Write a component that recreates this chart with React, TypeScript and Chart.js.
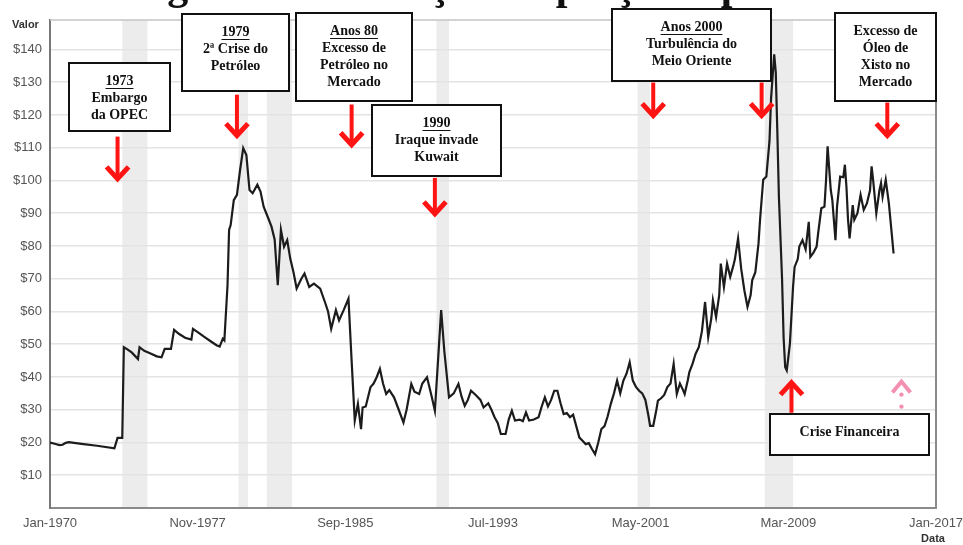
import { useEffect, useRef } from 'react';
import { Chart, registerables } from 'chart.js';

Chart.register(...registerables);

// ---- Data ----
const dates = [
  '1970-01','1970-04','1970-07','1970-09','1970-11','1971-01','1971-09','1972-07','1973-06','1973-08',
  '1973-11','1973-12','1974-02','1974-05','1974-09','1974-10','1975-01','1975-05','1975-09','1975-12',
  '1976-02','1976-06','1976-08','1976-11','1977-03','1977-07','1977-08','1977-11','1978-03','1978-07',
  '1978-11','1979-01','1979-03','1979-04','1979-06','1979-07','1979-08','1979-10','1979-12','1980-02',
  '1980-04','1980-06','1980-08','1980-10','1981-01','1981-03','1981-05','1981-08','1981-10','1981-12',
  '1982-02','1982-04','1982-06','1982-08','1982-10','1982-12','1983-02','1983-05','1983-07','1983-10',
  '1984-01','1984-05','1984-08','1984-10','1984-12','1985-03','1985-05','1985-08','1985-11','1986-01',
  '1986-03','1986-05','1986-07','1986-08','1986-10','1987-01','1987-03','1987-05','1987-07','1987-09',
  '1987-11','1988-01','1988-04','1988-07','1988-10','1988-12','1989-03','1989-05','1989-08','1989-10',
  '1990-01','1990-04','1990-06','1990-08','1990-10','1990-12','1991-03','1991-06','1991-09','1991-11',
  '1992-01','1992-03','1992-05','1992-08','1992-11','1993-01','1993-04','1993-06','1993-08','1993-10',
  '1993-12','1994-03','1994-05','1994-07','1994-09','1994-12','1995-02','1995-04','1995-06','1995-09',
  '1995-12','1996-02','1996-04','1996-06','1996-08','1996-10','1996-12','1997-02','1997-04','1997-06',
  '1997-08','1997-10','1997-12','1998-02','1998-04','1998-06','1998-08','1998-10','1998-12','1999-02',
  '1999-04','1999-06','1999-08','1999-10','1999-12','2000-02','2000-04','2000-06','2000-08','2000-10',
  '2000-12','2001-02','2001-04','2001-06','2001-08','2001-10','2001-11','2002-01','2002-03','2002-04',
  '2002-06','2002-08','2002-10','2002-12','2003-02','2003-04','2003-06','2003-08','2003-09','2003-11',
  '2003-12','2004-02','2004-04','2004-06','2004-08','2004-10','2004-12','2005-02','2005-03','2005-05',
  '2005-07','2005-08','2005-10','2005-12','2006-02','2006-04','2006-05','2006-07','2006-09','2006-11',
  '2007-01','2007-03','2007-04','2007-06','2007-08','2007-09','2007-11','2008-01','2008-03','2008-04',
  '2008-06','2008-07','2008-08','2008-09','2008-11','2008-12','2009-01','2009-02','2009-03','2009-04',
  '2009-06','2009-07','2009-09','2009-10','2009-12','2010-02','2010-04','2010-05','2010-07','2010-09',
  '2010-10','2010-12','2011-02','2011-03','2011-04','2011-06','2011-07','2011-09','2011-10','2011-12',
  '2012-02','2012-03','2012-04','2012-05','2012-06','2012-08','2012-09','2012-11','2013-01','2013-03',
  '2013-05','2013-07','2013-08','2013-09','2013-11','2014-01','2014-02','2014-03','2014-05','2014-07',
  '2014-08','2014-10',
];

const prices = [
  20.0, 19.6, 19.2, 19.3, 19.9, 20.1, 19.6, 19.0, 18.2, 21.4,
  21.4, 49.1, 48.5, 47.5, 45.5, 49.1, 48.0, 47.2, 46.3, 46.0,
  48.6, 48.6, 54.4, 53.2, 52.0, 51.4, 54.7, 53.7, 52.3, 51.0,
  49.7, 49.3, 51.7, 51.2, 68.0, 84.9, 86.4, 94.0, 95.6, 103.2,
  109.9, 107.8, 97.1, 96.1, 98.7, 96.6, 92.0, 88.4, 85.9, 82.0,
  68.0, 84.9, 79.8, 81.8, 76.0, 72.0, 67.0, 70.0, 71.6, 67.5,
  68.5, 67.0, 62.9, 60.0, 54.7, 60.4, 57.3, 60.5, 63.9, 45.0,
  26.7, 31.8, 24.1, 30.7, 31.0, 36.9, 38.0, 40.0, 42.5, 38.0,
  34.8, 36.0, 33.8, 30.0, 26.1, 30.0, 37.9, 35.5, 34.8, 38.0,
  39.9, 34.0, 29.7, 45.0, 60.4, 48.0, 33.8, 35.0, 37.9, 34.0,
  31.2, 33.0, 35.8, 34.5, 33.0, 30.7, 32.0, 30.0, 27.7, 26.0,
  22.6, 22.6, 27.0, 29.7, 26.7, 27.0, 26.5, 29.2, 26.7, 27.0,
  27.7, 31.0, 33.8, 31.0, 33.0, 35.8, 35.8, 32.0, 28.7, 29.0,
  27.7, 28.5, 25.0, 21.5, 20.5, 19.5, 19.8, 18.0, 16.4, 20.0,
  24.1, 25.0, 28.0, 31.8, 35.0, 38.9, 35.0, 38.9, 41.0, 44.5,
  38.9, 37.0, 35.8, 35.0, 33.0, 28.0, 25.1, 25.1, 30.0, 32.8,
  33.5, 34.5, 36.9, 38.0, 44.0, 34.8, 38.0, 36.0, 34.8, 39.0,
  41.5, 44.0, 47.1, 49.1, 54.0, 62.9, 52.2, 58.0, 63.4, 58.3,
  65.0, 74.6, 67.5, 74.6, 70.6, 74.0, 76.0, 82.3, 73.0, 66.5,
  61.4, 65.0, 69.5, 72.0, 80.7, 88.0, 100.2, 101.2, 112.0, 125.0,
  138.5, 133.0, 115.0, 95.0, 70.0, 52.0, 43.0, 42.0, 46.0, 50.2,
  67.5, 73.6, 76.0, 79.8, 81.8, 79.0, 87.4, 76.7, 78.0, 79.8,
  84.0, 91.5, 92.0, 100.0, 110.4, 97.1, 94.0, 81.8, 92.0, 101.2,
  101.0, 104.8, 98.0, 88.0, 82.3, 92.5, 88.0, 90.0, 95.6, 91.0,
  93.0, 97.0, 104.3, 100.0, 90.0, 97.0, 99.2, 95.0, 100.2, 93.0,
  88.0, 77.7,
];

// Shaded recession periods
const recessionStarts = ['1973-11', '1980-01', '1981-07', '1990-07', '2001-03', '2007-12'];
const recessionEnds = ['1975-03', '1980-07', '1982-11', '1991-03', '2001-11', '2009-06'];

// Axis ticks
const xTickDates = ['1970-01', '1977-11', '1985-09', '1993-07', '2001-05', '2009-03', '2017-01'];
const monthNames = ['Jan', 'Feb', 'Mar', 'Apr', 'May', 'Jun', 'Jul', 'Aug', 'Sep', 'Oct', 'Nov', 'Dec'];
const yTickValues = [0, 10, 20, 30, 40, 50, 60, 70, 80, 90, 100, 110, 120, 130, 140];

const titleText = 'Figura 1 – Evolução do preço do petróleo';
const yAxisTitle = 'Valor';
const xAxisTitle = 'Data';

// Annotation boxes: left (month index), top ($), size in px, text lines, underline first line
const boxes = [
  { x: 12.1, y: 136.0, w: 101, h: 68, lines: ['1973', 'Embargo', 'da OPEC'], underline: true },
  { x: 84.0, y: 150.7, w: 107, h: 77, lines: ['1979', '2ª Crise do', 'Petróleo'], underline: true },
  { x: 156.6, y: 151.0, w: 116, h: 88, lines: ['Anos 80', 'Excesso de', 'Petróleo no', 'Mercado'], underline: true },
  { x: 205.0, y: 122.9, w: 129, h: 71, lines: ['1990', 'Iraque invade', 'Kuwait'], underline: true },
  { x: 357.8, y: 152.3, w: 159, h: 72, lines: ['Anos 2000', 'Turbulência do', 'Meio Oriente'], underline: true },
  { x: 499.7, y: 151.0, w: 101, h: 88, lines: ['Excesso de', 'Óleo de', 'Xisto no', 'Mercado'], underline: false },
  { x: 458.3, y: 28.8, w: 159, h: 41, lines: ['Crise Financeira'], underline: false },
];

// Arrows: date, start value, tip value
const arrows = [
  { date: '1973-08', from: 113.4, to: 100.2, color: '#ff1414', dashed: false },
  { date: '1979-12', from: 126.2, to: 113.4, color: '#ff1414', dashed: false },
  { date: '1986-01', from: 123.2, to: 110.6, color: '#ff1414', dashed: false },
  { date: '1990-06', from: 100.8, to: 89.5, color: '#ff1414', dashed: false },
  { date: '2002-01', from: 129.9, to: 119.5, color: '#ff1414', dashed: false },
  { date: '2007-10', from: 129.9, to: 119.5, color: '#ff1414', dashed: false },
  { date: '2014-06', from: 123.8, to: 113.4, color: '#ff1414', dashed: false },
  { date: '2009-05', from: 29.1, to: 38.6, color: '#ff1414', dashed: false },
  { date: '2015-03', from: 29.7, to: 38.6, color: '#f48fb1', dashed: true },
];

const toMonth = (s: string) => {
  const [y, m] = s.split('-').map(Number);
  return (y - 1970) * 12 + (m - 1);
};

const SERIF = '"Liberation Serif", "Times New Roman", serif';
const SANS = '"Liberation Sans", Arial, sans-serif';

const decorPlugin = {
  id: 'decor',
  beforeDraw(chart: any) {
    const { ctx, chartArea, scales } = chart;
    ctx.save();
    ctx.fillStyle = '#ffffff';
    ctx.fillRect(0, 0, chart.width, chart.height);
    ctx.fillStyle = '#ececec';
    recessionStarts.forEach((s, i) => {
      const x1 = scales.x.getPixelForValue(toMonth(s));
      const x2 = scales.x.getPixelForValue(toMonth(recessionEnds[i]));
      ctx.fillRect(x1, chartArea.top, x2 - x1, chartArea.bottom - chartArea.top);
    });
    ctx.restore();
  },
  afterDraw(chart: any) {
    const { ctx, chartArea, scales } = chart;
    const xs = scales.x;
    const ys = scales.y;
    ctx.save();

    // top and right frame
    ctx.strokeStyle = '#c4c4c4';
    ctx.lineWidth = 1.5;
    ctx.beginPath();
    ctx.moveTo(chartArea.left, chartArea.top);
    ctx.lineTo(chartArea.right, chartArea.top);
    ctx.stroke();
    ctx.strokeStyle = '#8a8a8a';
    ctx.lineWidth = 2;
    ctx.beginPath();
    ctx.moveTo(chartArea.right, chartArea.top);
    ctx.lineTo(chartArea.right, chartArea.bottom);
    ctx.stroke();

    // title (cropped at the top of the picture: only descenders show)
    ctx.fillStyle = '#111';
    ctx.font = `bold 42px ${SERIF}`;
    ctx.textAlign = 'left';
    ctx.textBaseline = 'alphabetic';
    ctx.fillText(titleText, 130, -1);

    // axis titles
    ctx.fillStyle = '#333';
    ctx.font = `bold 11px ${SANS}`;
    ctx.textBaseline = 'middle';
    ctx.textAlign = 'left';
    ctx.fillText(yAxisTitle, 12, 25);
    ctx.textAlign = 'center';
    ctx.fillText(xAxisTitle, 933, 539);

    // arrows
    arrows.forEach((a) => {
      const x = xs.getPixelForValue(toMonth(a.date));
      const y0 = ys.getPixelForValue(a.from);
      const y1 = ys.getPixelForValue(a.to);
      const dir = y1 > y0 ? 1 : -1;
      ctx.strokeStyle = a.color;
      ctx.fillStyle = a.color;
      ctx.lineJoin = 'miter';
      ctx.lineCap = 'butt';
      if (a.dashed) {
        ctx.lineWidth = 4;
        ctx.beginPath();
        ctx.moveTo(x - 9, y1 - dir * 11);
        ctx.lineTo(x, y1);
        ctx.lineTo(x + 9, y1 - dir * 11);
        ctx.stroke();
        ctx.beginPath();
        ctx.arc(x, y1 - dir * 13, 2.2, 0, Math.PI * 2);
        ctx.fill();
        ctx.beginPath();
        ctx.arc(x, y1 - dir * 25, 2.2, 0, Math.PI * 2);
        ctx.fill();
      } else {
        ctx.lineWidth = 4;
        ctx.beginPath();
        ctx.moveTo(x, y0);
        ctx.lineTo(x, y1 - dir * 4);
        ctx.stroke();
        ctx.lineWidth = 5;
        ctx.beginPath();
        ctx.moveTo(x - 11, y1 - dir * 13);
        ctx.lineTo(x, y1 - dir * 1);
        ctx.lineTo(x + 11, y1 - dir * 13);
        ctx.stroke();
      }
    });

    // boxes
    boxes.forEach((b) => {
      const left = Math.round(xs.getPixelForValue(b.x));
      const top = Math.round(ys.getPixelForValue(b.y));
      ctx.fillStyle = '#ffffff';
      ctx.fillRect(left, top, b.w, b.h);
      ctx.strokeStyle = '#111';
      ctx.lineWidth = 2;
      ctx.strokeRect(left, top, b.w, b.h);
      ctx.fillStyle = '#111';
      ctx.font = `bold 14px ${SERIF}`;
      ctx.textAlign = 'center';
      ctx.textBaseline = 'middle';
      const cx = left + b.w / 2;
      b.lines.forEach((line, i) => {
        const ty = top + 18 + i * 17;
        ctx.fillText(line, cx, ty);
        if (i === 0 && b.underline) {
          const w = ctx.measureText(line).width;
          ctx.lineWidth = 1;
          ctx.beginPath();
          ctx.moveTo(cx - w / 2, ty + 7.5);
          ctx.lineTo(cx + w / 2, ty + 7.5);
          ctx.stroke();
        }
      });
    });

    ctx.restore();
  },
};

export default function App() {
  const ref = useRef<HTMLCanvasElement>(null);

  useEffect(() => {
    const chart = new Chart(ref.current as HTMLCanvasElement, {
      type: 'line',
      data: {
        datasets: [
          {
            data: dates.map((d, i) => ({ x: toMonth(d), y: prices[i] })),
            borderColor: '#1c1c1c',
            borderWidth: 2.2,
            pointRadius: 0,
            tension: 0,
            fill: false,
          },
        ],
      },
      options: {
        responsive: false,
        animation: false,
        devicePixelRatio: 1,
        layout: { padding: { left: 0, top: 20, right: 27, bottom: 0 } },
        plugins: { legend: { display: false }, tooltip: { enabled: false } },
        scales: {
          x: {
            type: 'linear',
            min: 0,
            max: toMonth('2017-01'),
            afterBuildTicks: (s: any) => {
              s.ticks = xTickDates.map((d) => ({ value: toMonth(d) }));
            },
            afterFit: (s: any) => {
              s.height = 37;
              s.paddingRight = 0;
              s.paddingLeft = 0;
            },
            ticks: {
              autoSkip: false,
              maxRotation: 0,
              padding: 8,
              color: '#555',
              font: { family: SANS, size: 13 },
              callback: (v: any) => {
                const m = Number(v);
                return `${monthNames[m % 12]}-${1970 + Math.floor(m / 12)}`;
              },
            },
            grid: { display: false, drawTicks: false },
            border: { display: true, color: '#8a8a8a', width: 2 },
          },
          y: {
            type: 'linear',
            min: 0,
            max: 149,
            afterBuildTicks: (s: any) => {
              s.ticks = yTickValues.map((v) => ({ value: v }));
            },
            afterFit: (s: any) => {
              s.width = 50;
              s.paddingTop = 0;
              s.paddingBottom = 0;
            },
            ticks: {
              padding: 8,
              color: '#555',
              font: { family: SANS, size: 13 },
              callback: (v: any) => (Number(v) === 0 ? '' : `$${v}`),
            },
            grid: { color: '#e3e3e3', lineWidth: 1.5, drawTicks: false },
            border: { display: true, color: '#777', width: 2 },
          },
        },
      },
      plugins: [decorPlugin],
    });
    return () => chart.destroy();
  }, []);

  return (
    <div style={{ position: 'fixed', left: 0, top: 0, width: 963, height: 545, background: '#fff' }}>
      <canvas ref={ref} width={963} height={545} style={{ display: 'block', width: 963, height: 545 }} />
    </div>
  );
}
